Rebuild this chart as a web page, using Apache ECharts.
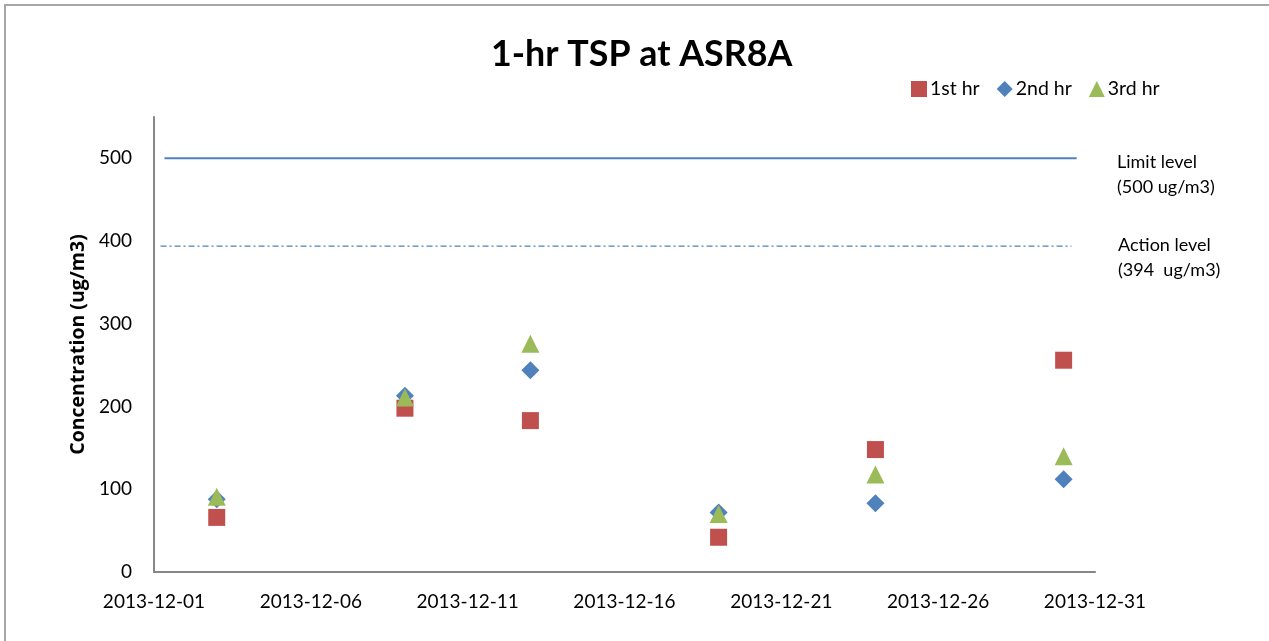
<!DOCTYPE html>
<html>
<head>
<meta charset="utf-8">
<title>1-hr TSP at ASR8A</title>
<script src="https://cdn.jsdelivr.net/npm/echarts@6/dist/echarts.min.js"></script>
<style>
  html, body { margin: 0; padding: 0; background: #fff; }
  #chart { width: 1269px; height: 641px; }
</style>
</head>
<body>
<div id="chart"></div>
<script>
// Monitoring dates and 1-hour TSP readings (ug/m3)
const sampleDates = ['2013-12-03', '2013-12-09', '2013-12-13', '2013-12-19', '2013-12-24', '2013-12-30'];
const hour1 = [66, 198, 183, 42, 148, 256];
const hour2 = [88, 213, 244, 72, 83, 112];
const hour3 = [91, 211, 276, 70, 118, 140];

// Reference levels and the span they are drawn across
const limitLevel = 500;
const actionLevel = 394;
const limitSpan = ['2013-12-01T08:00Z', '2013-12-30T10:00Z'];
const actionSpan = ['2013-12-01T05:00Z', '2013-12-30T06:00Z'];

// Axis settings
const axisStart = '2013-12-01';
const axisEnd = '2013-12-31';
const dayStep = 5;
const yMax = 550;
const yStep = 100;

const DAY = 86400000;
const base = Date.parse(axisStart);
const dayOf = d => (Date.parse(d) - base) / DAY;
const pad = n => (n < 10 ? '0' : '') + n;
const fmtDay = v => {
  const d = new Date(base + Math.round(v) * DAY);
  return d.getUTCFullYear() + '-' + pad(d.getUTCMonth() + 1) + '-' + pad(d.getUTCDate());
};
const pts = vals => sampleDates.map((d, i) => [dayOf(d), vals[i]]);

const FONT = 'Lato, "Open Sans", sans-serif';
const RED = '#C0504D', BLUE = '#4F81BD', GREEN = '#9BBB59';

const chart = echarts.init(document.getElementById('chart'), null, { renderer: 'canvas' });
chart.setOption({
  backgroundColor: '#ffffff',
  animation: false,
  title: {
    text: '1-hr TSP at ASR8A',
    left: 486,
    top: 31,
    textStyle: { fontFamily: FONT, fontWeight: 'bold', fontSize: 35.8, color: '#000' }
  },
  legend: {
    data: [
      { name: '1st hr', icon: 'rect' },
      { name: '2nd hr', icon: 'diamond' },
      { name: '3rd hr', icon: 'triangle' }
    ],
    left: 906,
    top: 74,
    itemWidth: 16,
    itemHeight: 16,
    itemGap: 17,
    textStyle: { fontFamily: FONT, fontSize: 19.5, color: '#000', padding: [0, 0, 0, -2] }
  },
  grid: { left: 154, right: 174, top: 117, bottom: 69, containLabel: false },
  xAxis: {
    type: 'value',
    min: 0,
    max: dayOf(axisEnd),
    interval: dayStep,
    splitLine: { show: false },
    axisTick: { show: false },
    axisLine: { lineStyle: { color: '#868686', width: 2 } },
    axisLabel: {
      fontFamily: FONT, fontSize: 19, color: '#000', margin: 20,
      formatter: v => fmtDay(v)
    }
  },
  yAxis: {
    type: 'value',
    min: 0,
    max: yMax,
    interval: yStep,
    name: 'Concentration (ug/m3)',
    nameLocation: 'middle',
    nameGap: 66,
    nameTextStyle: { fontFamily: '"Open Sans", Lato, sans-serif', fontWeight: 'bold', fontSize: 19.5, color: '#000' },
    splitLine: { show: false },
    axisTick: { show: false },
    axisLine: { show: true, lineStyle: { color: '#868686', width: 2 } },
    axisLabel: {
      fontFamily: FONT, fontSize: 19, color: '#000', margin: 22,
      showMaxLabel: false
    }
  },
  graphic: [
    {
      type: 'polyline', silent: true,
      shape: { points: [[5, 700], [5, 5], [1300, 5]] },
      style: { stroke: '#a6a6a6', lineWidth: 2, fill: null }
    },
    {
      type: 'text', left: 1117, top: 150,
      style: { text: 'Limit level\n(500 ug/m3)', fontFamily: FONT, fontSize: 18, lineHeight: 25, fill: '#000' }
    },
    {
      type: 'text', left: 1118, top: 233,
      style: { text: 'Action level\n(394  ug/m3)', fontFamily: FONT, fontSize: 18, lineHeight: 25, fill: '#000' }
    }
  ],
  series: [
    {
      name: 'Limit level', type: 'line', silent: true, symbol: 'none',
      data: limitSpan.map(d => [dayOf(d), limitLevel]),
      lineStyle: { color: BLUE, width: 2 }
    },
    {
      name: 'Action level', type: 'line', silent: true, symbol: 'none',
      data: actionSpan.map(d => [dayOf(d), actionLevel]),
      lineStyle: { color: BLUE, width: 1.2, type: [6, 3, 2, 3] }
    },
    {
      name: '1st hr', type: 'scatter', symbol: 'rect', symbolSize: 17,
      data: pts(hour1), itemStyle: { color: RED, opacity: 1 }
    },
    {
      name: '2nd hr', type: 'scatter', symbol: 'diamond', symbolSize: 18,
      data: pts(hour2), itemStyle: { color: BLUE, opacity: 1 }
    },
    {
      name: '3rd hr', type: 'scatter', symbol: 'triangle', symbolSize: 18,
      data: pts(hour3), itemStyle: { color: GREEN, opacity: 1 }
    }
  ]
});
</script>
</body>
</html>
